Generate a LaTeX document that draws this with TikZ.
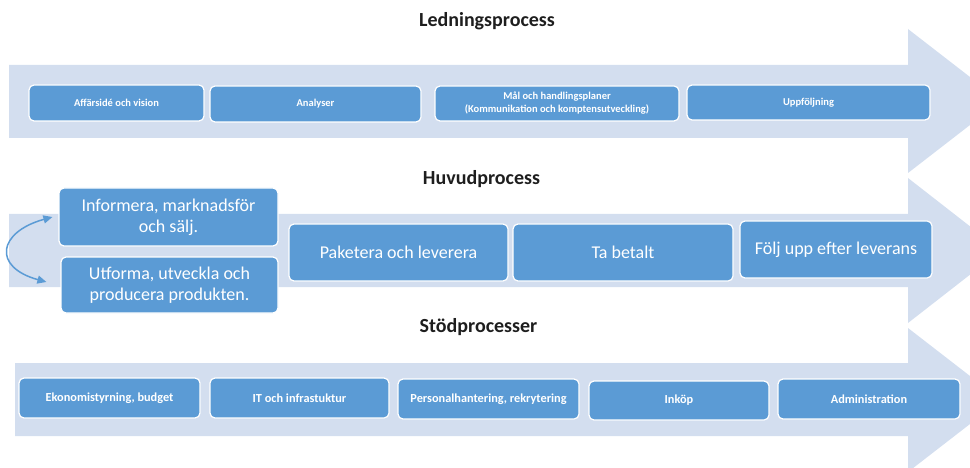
\documentclass[tikz,border=0pt]{standalone}
\usepackage{fontspec}
\setmainfont{Carlito}
\usetikzlibrary{arrows.meta}
\definecolor{arrowfill}{RGB}{211,222,239}
\definecolor{boxblue}{RGB}{91,155,213}
\definecolor{titlecol}{RGB}{30,30,30}
\tikzset{
  bigarrow/.style={fill=arrowfill, draw=none},
  boxbase/.style={rounded corners=5pt, fill=boxblue, draw=white, line width=1.2pt, text=white, inner sep=0pt, align=center},
  boxsmall/.style={boxbase, font=\fontsize{10.5}{13}\selectfont\bfseries},
  boxmid/.style={boxbase, font=\fontsize{12.3}{14}\selectfont\bfseries},
  boxlarge/.style={boxbase, font=\fontsize{18}{21}\selectfont},
  titletext/.style={text=titlecol, font=\fontsize{20}{24}\selectfont\bfseries, inner sep=0pt},
  cycarrow/.style={draw=boxblue, line width=1.5pt, {Triangle[length=9pt,width=8pt]}-{Triangle[length=9pt,width=8pt]}},
}
\begin{document}
\begin{tikzpicture}[x=1pt, y=-1pt]
\useasboundingbox (0,0) rectangle (970,468);
\clip (0,0) rectangle (970,468);
% big arrows
\fill[bigarrow] (9,65) -- (908,65) -- (908,29) -- (1001,101) -- (908,173) -- (908,138) -- (9,138) -- cycle;
\fill[bigarrow] (9,214) -- (908,214) -- (908,178) -- (1001,250.5) -- (908,323) -- (908,287) -- (9,287) -- cycle;
\fill[bigarrow] (15,363) -- (908,363) -- (908,328) -- (1001,400) -- (908,472) -- (908,436) -- (15,436) -- cycle;
% titles
\node[titletext] (t1) at (487,21.5) {Ledningsprocess};
\node[titletext] (t2) at (481.5,179.5) {Huvudprocess};
\node[titletext] (t3) at (478.5,327.5) {Stödprocesser};
% row 1
\node[boxsmall, minimum width=175pt, minimum height=36pt] (a1) at (116.5,103) {Affärsidé och vision};
\node[boxsmall, minimum width=211pt, minimum height=36pt] (a2) at (315.5,104) {Analyser};
\node[boxsmall, minimum width=244pt, minimum height=35pt] (a3) at (557,103.5) {Mål och handlingsplaner\\(Kommunikation och komptensutveckling)};
\node[boxsmall, minimum width=243pt, minimum height=35pt] (a4) at (808.5,102.5) {Uppföljning};
% row 2
\node[boxlarge, minimum width=219pt, minimum height=58pt] (b1) at (168.5,217) {Informera, marknadsför\\och sälj.};
\node[boxlarge, minimum width=217pt, minimum height=56pt] (b2) at (169.5,285) {Utforma, utveckla och\\producera produkten.};
\node[boxlarge, minimum width=219pt, minimum height=57pt] (b3) at (398.5,252.5) {Paketera och leverera};
\node[boxlarge, minimum width=220pt, minimum height=57pt] (b4) at (623,252.5) {Ta betalt};
\node[boxlarge, minimum width=192pt, minimum height=57pt] (b5) at (836,249.5) {Följ upp efter leverans};
% row 3
\node[boxmid, minimum width=181pt, minimum height=40pt] (c1) at (109.5,398) {Ekonomistyrning, budget};
\node[boxmid, minimum width=179pt, minimum height=40pt] (c2) at (299.5,398) {IT och infrastuktur};
\node[boxmid, minimum width=181pt, minimum height=40pt] (c3) at (488.5,399) {Personalhantering, rekrytering};
\node[boxmid, minimum width=180pt, minimum height=39pt] (c4) at (679,400.5) {Inköp};
\node[boxmid, minimum width=182pt, minimum height=40pt] (c5) at (869,399) {Administration};
% cycle arrow
\draw[cycarrow] ([xshift=-6pt]b1.west) .. controls (-2,232) and (-8,267) .. ([xshift=-14pt,yshift=3pt]b2.west);
\end{tikzpicture}
\end{document}
